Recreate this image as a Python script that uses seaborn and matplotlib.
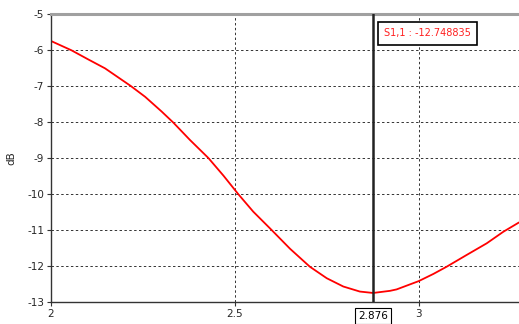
import matplotlib
matplotlib.use("Agg")
import matplotlib.pyplot as plt
import seaborn as sns
import pandas as pd

freq = [2.000, 2.056, 2.101, 2.147, 2.217, 2.256, 2.301, 2.333, 2.378, 2.428,
        2.469, 2.509, 2.550, 2.600, 2.650, 2.704, 2.750, 2.795, 2.840, 2.876,
        2.922, 2.940, 3.000, 3.040, 3.076, 3.131, 3.185, 3.230, 3.2728]
s11 = [-5.75, -6.01, -6.26, -6.51, -7.00, -7.30, -7.71, -8.02, -8.50, -9.00,
       -9.49, -10.00, -10.49, -11.00, -11.52, -12.02, -12.34, -12.57, -12.71, -12.749,
       -12.69, -12.65, -12.42, -12.22, -12.02, -11.69, -11.37, -11.05, -10.79]
marker_x = 2.876
marker_label = "S1,1 : -12.748835"
xticks = [2, 2.5, 3]
xtick_labels = ["2", "2.5", "3"]
yticks = [-5, -6, -7, -8, -9, -10, -11, -12, -13]

sns.set_style("white")
plt.rcParams['font.family'] = ['DejaVu Sans']

df = pd.DataFrame({"freq": freq, "dB": s11})

fig = plt.figure(figsize=(5.19, 3.24), dpi=100)
ax = fig.add_axes([51/519, 22/324, 468/519, 288/324])

sns.lineplot(data=df, x="freq", y="dB", ax=ax, color="#ff0000", linewidth=1.3)

ax.set_xlim(2, 3.2728)
ax.set_ylim(-13, -5)
ax.set_xticks(xticks)
ax.set_xticklabels(xtick_labels)
ax.set_yticks(yticks)
ax.set_yticklabels([str(v) for v in yticks])
ax.tick_params(axis="both", labelsize=7.5, length=3, width=0.8, color="#333333",
               direction="out", pad=2, bottom=True, left=True)
ax.set_xlabel("")
ax.set_ylabel("dB", fontsize=7.5, labelpad=8)

ax.grid(True, color="#333333", linestyle=(0, (2.5, 2.5)), linewidth=0.7)
ax.set_axisbelow(True)

for s in ["left", "bottom"]:
    ax.spines[s].set_color("#333333")
    ax.spines[s].set_linewidth(1.0)
ax.spines["right"].set_visible(False)
ax.spines["top"].set_color("#a0a0a0")
ax.spines["top"].set_linewidth(2.2)

ax.axvline(marker_x, color="#222222", linewidth=1.8, zorder=5)

ax.annotate(marker_label, xy=(marker_x, 1.0), xycoords=("data", "axes fraction"),
            xytext=(8, -14), textcoords="offset points", color="#ff2020",
            fontsize=7, ha="left", va="center",
            bbox=dict(boxstyle="square,pad=0.65", fc="white", ec="black", lw=1.2))

ax.annotate(f"{marker_x:.3f}", xy=(marker_x, 0.0), xycoords=("data", "axes fraction"),
            xytext=(0, -10), textcoords="offset points", color="black",
            fontsize=7.5, ha="center", va="center",
            bbox=dict(boxstyle="square,pad=0.3", fc="white", ec="black", lw=0.8))

fig.savefig("out.png", dpi=100)
